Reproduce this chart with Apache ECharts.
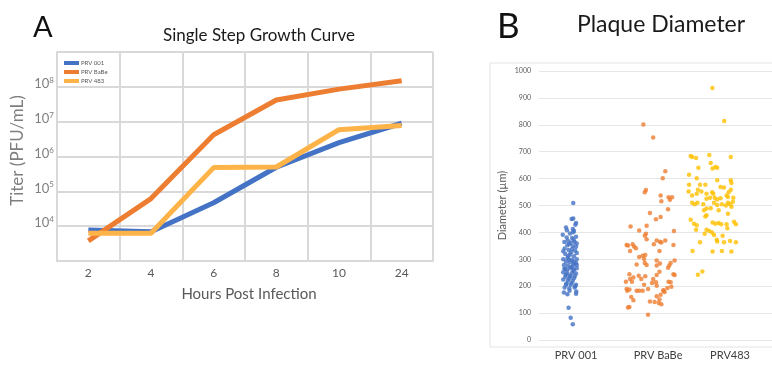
<!DOCTYPE html>
<html>
<head>
<meta charset="utf-8">
<script src="https://cdn.jsdelivr.net/npm/echarts@6/dist/echarts.min.js"></script>
<style>
  html, body { margin: 0; padding: 0; background: #fff; }
  #main { width: 772px; height: 366px; }
</style>
</head>
<body>
<div id="main"></div>
<script>
// --- Panel A: single step growth curve (titer, PFU/mL) ---
var hours = ['2', '4', '6', '8', '10', '24'];
var titer001 = [7800, 6900, 47000, 490000, 2500000, 9000000];
var titerBaBe = [3800, 62000, 4200000, 42000000, 86000000, 150000000];
var titer483 = [6300, 6300, 480000, 500000, 5900000, 7800000];

// --- Panel B: plaque diameter (µm), [jitter position, diameter] ---
var groupNames = ['PRV 001', 'PRV BaBe', 'PRV483'];
var groupLabelPos = [15.9, 51.1, 82.0];

var plaque001 = [
  [14.7,509],[14.0,450],[14.7,452],[15.9,435],[15.6,428],
  [11.6,418],[12.0,408],[14.5,413],[15.0,406],[10.2,391],[13.3,396],[14.7,401],
  [11.9,381],[14.2,379],[15.9,384],[14.9,372],[10.9,364],[12.4,369],[13.6,362],[15.3,364],[16.2,359],
  [13.0,357],[12.2,352],[14.5,349],[15.9,347],[11.0,340],[10.4,330],[12.7,335],[14.2,338],[15.5,333],
  [13.8,326],[11.3,320],[13.3,318],[16.2,323],[15.0,311],[12.6,312],
  [12.2,305],[10.4,300],[14.2,298],[16.2,300],[12.9,298],
  [11.6,291],[13.3,289],[14.7,291],[15.9,286],[15.2,284],
  [10.7,279],[12.4,276],[14.5,276],[16.2,279],[13.9,271],
  [11.3,264],[13.3,267],[15.0,262],[16.2,267],[10.9,265],[12.0,258],[14.8,257],
  [10.4,252],[12.2,247],[14.2,250],[15.9,247],[11.5,243],[13.5,240],[15.4,238],
  [11.3,235],[13.3,235],[15.0,230],[12.8,228],
  [10.4,225],[12.4,220],[14.5,220],[14.0,212],[11.8,210],
  [11.6,205],[13.6,205],[15.9,205],[15.5,200],
  [11.0,195],[13.0,192],[15.3,195],[13.1,183],[16.0,180],
  [10.7,177],[15.9,172],[12.2,170],
  [12.7,120],[13.6,83],[14.5,59]
];

var plaqueBaBe = [
  [44.8,801],[49.0,753],[54.2,627],[53.1,601],[45.9,558],[45.4,549],[52.2,537],
  [55.6,531],[57.1,531],[56.2,521],[52.5,516],[55.4,486],[47.6,472],[52.2,457],[50.2,449],
  [39.3,422],[46.2,425],[43.0,407],[45.9,395],[45.4,388],[57.9,405],[46.2,375],
  [50.5,370],[51.9,365],[54.2,370],[52.5,362],[49.3,356],
  [38.2,351],[40.2,356],[40.8,348],[41.6,341],[37.6,353],[57.7,353],[39.1,331],[51.7,331],
  [44.5,313],[45.6,316],[43.0,309],[45.1,301],[58.2,296],[50.5,296],[51.9,284],
  [41.9,281],[45.4,286],[46.2,279],[50.5,277],[56.5,286],[55.9,277],[55.4,269],[51.7,254],
  [38.8,244],[40.5,232],[42.8,239],[43.9,227],[45.6,237],[57.7,244],[58.2,242],[50.5,242],
  [49.0,227],[50.2,215],[37.3,217],[39.9,217],[39.1,227],[45.1,205],[55.6,217],[56.5,215],[48.5,212],[50.5,202],
  [37.6,190],[37.9,183],[38.8,188],[46.8,190],[41.9,183],[43.0,183],[44.5,183],
  [56.8,198],[55.1,193],[53.4,185],[53.9,178],[52.2,168],[50.5,163],[53.4,183],
  [39.6,160],[40.5,148],[51.7,151],[47.6,143],[49.6,141],[51.4,138],[52.5,133],
  [38.2,121],[38.8,123],[46.8,94]
];

var plaque483 = [
  [74.4,937],[79.5,814],[65.1,684],[65.7,680],[67.4,677],[73.1,688],[73.7,658],[82.3,680],
  [74.5,638],[75.7,643],[76.5,640],[68.4,640],[64.4,614],[67.7,601],[82.3,594],[82.6,584],[76.5,594],
  [69.1,577],[71.4,577],[64.4,577],[77.9,569],[79.4,567],[68.2,559],[69.7,552],[64.2,552],
  [65.7,537],[67.7,544],[71.9,544],[82.3,559],[81.4,549],[80.5,537],[81.1,532],
  [74.3,549],[74.8,544],[75.4,529],[73.4,529],[83.4,529],[76.5,522],[77.9,527],[71.9,525],[83.2,514],
  [65.7,510],[66.8,505],[68.0,510],[75.1,510],[76.5,502],[78.5,505],[80.2,500],[81.1,510],[82.0,505],
  [70.5,505],[73.7,490],[82.6,495],
  [71.9,489],[70.8,482],[77.1,482],[81.1,469],[71.9,464],[71.4,459],
  [65.1,447],[66.5,432],[67.7,427],[74.5,437],[75.7,432],[77.1,435],[80.5,430],[78.2,430],[83.7,440],[84.5,430],
  [67.4,410],[71.9,410],[73.1,405],[74.3,400],[75.1,390],[80.8,415],[78.8,388],[71.1,395],
  [69.1,363],[76.3,373],[76.5,366],[79.4,363],[82.0,368],[84.5,363],
  [65.9,331],[74.5,329],[78.5,331],[82.6,329],
  [70.1,255],[68.2,243]
];

var chart = echarts.init(document.getElementById('main'), null, { renderer: 'canvas' });

var gridGray = '#d9d9d9';
var font = 'Lato, "Open Sans", sans-serif';

var option = {
  animation: false,
  backgroundColor: '#ffffff',
  textStyle: { fontFamily: font },
  graphic: [
    { type: 'text', x: 33, y: 13, style: { text: 'A', font: '29px ' + font, fill: '#111' } },
    { type: 'text', x: 259, y: 36, style: { text: 'Single Step Growth Curve', font: '17px ' + font, fill: '#1a1a1a', textAlign: 'center', textVerticalAlign: 'middle' } },
    { type: 'text', x: 497, y: 9, style: { text: 'B', font: '35px ' + font, fill: '#111' } },
    { type: 'text', x: 661, y: 25, style: { text: 'Plaque Diameter', font: '23px ' + font, fill: '#1a1a1a', textAlign: 'center', textVerticalAlign: 'middle' } },
    { type: 'rect', shape: { x: 490, y: 63, width: 300, height: 284 }, style: { fill: 'none', stroke: '#e3e3e3', lineWidth: 1 }, silent: true }
  ],
  legend: {
    left: 59, top: 55,
    orient: 'vertical',
    icon: 'rect',
    itemWidth: 15, itemHeight: 4, itemGap: 3,
    textStyle: { fontSize: 6, color: '#595959', padding: [0, 0, 0, -3] },
    data: ['PRV 001', 'PRV BaBe', 'PRV 483']
  },
  grid: [
    { left: 57, top: 52, width: 376, height: 209 },
    { left: 539, top: 71, right: 0, height: 269 }
  ],
  xAxis: [
    {
      gridIndex: 0,
      type: 'category',
      data: hours,
      boundaryGap: true,
      axisLine: { lineStyle: { color: gridGray, width: 2 } },
      axisTick: { show: false },
      axisLabel: { color: '#595959', fontSize: 12, margin: 6 },
      splitLine: { show: true, lineStyle: { color: gridGray, width: 2 } },
      name: 'Hours Post Infection',
      nameLocation: 'middle',
      nameGap: 26,
      nameTextStyle: { color: '#595959', fontSize: 15, padding: [0, 0, 0, 8] }
    },
    {
      gridIndex: 1,
      type: 'value',
      min: 0, max: 100,
      axisLine: { show: false },
      axisTick: { show: false },
      splitLine: { show: false },
      axisLabel: {
        customValues: groupLabelPos,
        color: '#404040', fontSize: 11, margin: 10,
        formatter: function (v) {
          var i = groupLabelPos.indexOf(v);
          return i >= 0 ? groupNames[i] : '';
        }
      }
    }
  ],
  yAxis: [
    {
      gridIndex: 0,
      type: 'log',
      logBase: 10,
      min: 1000, max: 1000000000,
      axisLine: { show: true, lineStyle: { color: gridGray, width: 2 } },
      axisTick: { show: false },
      splitLine: { show: true, lineStyle: { color: gridGray, width: 2 } },
      axisLabel: {
        color: '#7f7f7f',
        fontSize: 13,
        margin: 3,
        padding: [0, 0, 6, 0],
        formatter: function (v) {
          var e = Math.round(Math.log10(v));
          if (e < 4 || e > 8) return '';
          return '10{s|' + e + '}';
        },
        rich: { s: { fontSize: 8, color: '#7f7f7f', verticalAlign: 'bottom', padding: [0, 0, 7, 0] } }
      },
      name: 'Titer (PFU/mL)',
      nameLocation: 'middle',
      nameGap: 31,
      nameTextStyle: { color: '#7f7f7f', fontSize: 17, padding: [0, 0, 0, 12] }
    },
    {
      gridIndex: 1,
      type: 'value',
      min: 0, max: 1000, interval: 100,
      axisLine: { show: false },
      axisTick: { show: false },
      splitLine: { show: true, lineStyle: { color: '#e6e6e6', width: 1 } },
      axisLabel: { color: '#595959', fontSize: 7, margin: 8, formatter: function (v) { return String(v); } },
      name: 'Diameter (\u00b5m)',
      nameLocation: 'middle',
      nameGap: 31,
      nameTextStyle: { color: '#595959', fontSize: 11 }
    }
  ],
  series: [
    { name: 'PRV 001', type: 'line', xAxisIndex: 0, yAxisIndex: 0, data: titer001, showSymbol: false, color: '#4472c4', lineStyle: { width: 5 } },
    { name: 'PRV BaBe', type: 'line', xAxisIndex: 0, yAxisIndex: 0, data: titerBaBe, showSymbol: false, color: '#ed7d31', lineStyle: { width: 5 } },
    { name: 'PRV 483', type: 'line', xAxisIndex: 0, yAxisIndex: 0, data: titer483, showSymbol: false, color: '#fdb347', lineStyle: { width: 5 } },
    { name: 'd001', type: 'scatter', xAxisIndex: 1, yAxisIndex: 1, data: plaque001, symbolSize: 4.5, itemStyle: { color: '#4472c4' } },
    { name: 'dBaBe', type: 'scatter', xAxisIndex: 1, yAxisIndex: 1, data: plaqueBaBe, symbolSize: 4.5, itemStyle: { color: '#ed7d31' } },
    { name: 'd483', type: 'scatter', xAxisIndex: 1, yAxisIndex: 1, data: plaque483, symbolSize: 4.5, itemStyle: { color: '#ffc000' } }
  ]
};

chart.setOption(option);
</script>
</body>
</html>
